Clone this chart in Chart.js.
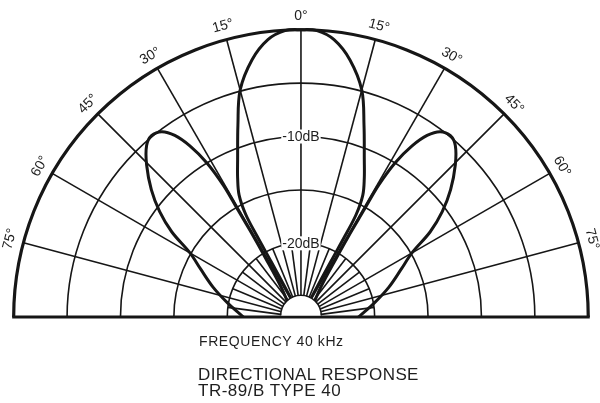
<!DOCTYPE html>
<html>
<head>
<meta charset="utf-8">
<script src="https://cdn.jsdelivr.net/npm/chart.js@4.4.0/dist/chart.umd.min.js"></script>
<style>
  html, body { margin: 0; padding: 0; background: #fff; }
  #wrap { position: relative; width: 600px; height: 403px; }
  .cap { position: absolute; font-family: "Liberation Sans", Arial, sans-serif; color: #1e1e1e; white-space: nowrap; }
</style>
</head>
<body>
<div id="wrap">
  <canvas id="polarChart" width="600" height="403"></canvas>
  <div class="cap" style="left:199px; top:333px; font-size:14px; letter-spacing:0.6px;">FREQUENCY 40 kHz</div>
  <div class="cap" style="left:198px; top:365px; font-size:17px; letter-spacing:0.4px;">DIRECTIONAL RESPONSE</div>
  <div class="cap" style="left:198px; top:381px; font-size:17px; letter-spacing:0.5px;">TR-89/B TYPE 40</div>
</div>
<script>
// dB value that sits at the middle of the half circle
const centerDb = -26.9;
const ringDb = [0, -5, -10, -15, -20];
const innerDb = -25;
const spokeDeg = [-75, -60, -45, -30, -15, 0, 15, 30, 45, 60, 75];
const minorSpokeDeg = [-82.5, -67.5, -52.5, -37.5, -22.5, -7.5, 7.5, 22.5, 37.5, 52.5, 67.5, 82.5];
const angleLabelDeg = [-75, -60, -45, -30, -15, 0, 15, 30, 45, 60, 75];
const angleLabels = ['75°', '60°', '45°', '30°', '15°', '0°', '15°', '30°', '45°', '60°', '75°'];
const dbLabelDb = [-10, -20];
const dbLabels = ['-10dB', '-20dB'];

// main lobe, one half (angle off axis, level in dB)
const mainLobeDeg = [0, 3.2, 6.8, 10.8, 15.0, 18.2, 21.9, 24.5, 26.9, 28.3, 28.5, 28.3, 28.0];
const mainLobeDb = [0, -0.05, -0.75, -2.4, -4.9, -8.0, -11.0, -12.6, -14.1, -16.0, -18.3, -21.0, -25.0];

// side lobe, traced from the middle out along the inner edge and back down the outer edge
const sideLobeDeg = [41, 33.5, 31, 30.5, 30.5, 30.5, 31.4, 33.0, 34.8, 36.9, 39.5, 42.0, 45.4, 49.6, 53.3, 56.6, 60.0, 64.5, 71.2, 79.1, 89.0, 90];
const sideLobeDb = [-25, -23.5, -20.5, -18.2, -15.2, -12.6, -10.0, -7.8, -6.2, -5.2, -4.9, -5.3, -6.6, -8.5, -10.4, -12.4, -14.9, -16.5, -18.2, -19.9, -21.4, -21.5];

function toXY(deg, db) {
    const u = db - centerDb;
    const a = deg * Math.PI / 180;
    return { x: u * Math.sin(a), y: u * Math.cos(a) };
}

const mainLoop = [];
for (let i = mainLobeDeg.length - 1; i >= 0; i--) mainLoop.push(toXY(-mainLobeDeg[i], mainLobeDb[i]));
for (let i = 1; i < mainLobeDeg.length; i++) mainLoop.push(toXY(mainLobeDeg[i], mainLobeDb[i]));
const sideLeft = sideLobeDeg.map((d, i) => toXY(-d, sideLobeDb[i]));
const sideRight = sideLobeDeg.map((d, i) => toXY(d, sideLobeDb[i]));

const ink = '#161616';

const polarGrid = {
    id: 'polarGrid',
    beforeDatasetsDraw(chart) {
        const ctx = chart.ctx;
        const xs = chart.scales.x, ys = chart.scales.y;
        const cx = xs.getPixelForValue(0), cy = ys.getPixelForValue(0);
        const rad = db => xs.getPixelForValue(db - centerDb) - cx;
        const pt = (deg, db) => {
            const p = toXY(deg, db);
            return [xs.getPixelForValue(p.x), ys.getPixelForValue(p.y)];
        };
        ctx.save();
        ctx.strokeStyle = ink;
        ctx.lineCap = 'butt';
        // rings
        ringDb.forEach(db => {
            ctx.lineWidth = db === 0 ? 3.2 : 1.6;
            ctx.beginPath();
            ctx.arc(cx, cy, rad(db), Math.PI, 2 * Math.PI);
            ctx.stroke();
        });
        // spokes
        ctx.lineWidth = 1.6;
        spokeDeg.forEach(d => {
            const a = pt(d, innerDb), b = pt(d, 0);
            ctx.beginPath(); ctx.moveTo(a[0], a[1]); ctx.lineTo(b[0], b[1]); ctx.stroke();
        });
        minorSpokeDeg.forEach(d => {
            const a = pt(d, innerDb), b = pt(d, -20);
            ctx.beginPath(); ctx.moveTo(a[0], a[1]); ctx.lineTo(b[0], b[1]); ctx.stroke();
        });
        ctx.restore();
    },
    afterDatasetsDraw(chart) {
        const ctx = chart.ctx;
        const xs = chart.scales.x, ys = chart.scales.y;
        const cx = xs.getPixelForValue(0), cy = ys.getPixelForValue(0);
        const rad = db => xs.getPixelForValue(db - centerDb) - cx;
        ctx.save();
        ctx.strokeStyle = ink;
        // baseline
        ctx.lineWidth = 3;
        ctx.beginPath();
        ctx.moveTo(cx - rad(0) - 1.5, cy);
        ctx.lineTo(cx + rad(0) + 1.5, cy);
        ctx.stroke();
        // small half circle in the middle
        ctx.fillStyle = '#fff';
        ctx.lineWidth = 1.6;
        ctx.beginPath();
        ctx.arc(cx, cy - 1.5, rad(innerDb), Math.PI, 2 * Math.PI);
        ctx.closePath();
        ctx.fill();
        ctx.beginPath();
        ctx.arc(cx, cy - 1.5, rad(innerDb), Math.PI, 2 * Math.PI);
        ctx.stroke();

        // dB labels on the axis
        ctx.font = '14px "Liberation Sans", Arial, sans-serif';
        ctx.textAlign = 'center';
        ctx.textBaseline = 'middle';
        dbLabelDb.forEach((db, i) => {
            const y = cy - rad(db);
            const w = ctx.measureText(dbLabels[i]).width;
            ctx.fillStyle = '#fff';
            ctx.fillRect(cx - w / 2 - 1, y - 7, w + 2, 14);
            ctx.fillStyle = '#1e1e1e';
            ctx.fillText(dbLabels[i], cx, y + 1);
        });

        // angle labels round the outside
        const r = rad(0) + 14;
        angleLabelDeg.forEach((d, i) => {
            const a = d * Math.PI / 180;
            ctx.save();
            ctx.translate(cx + r * Math.sin(a), cy - r * Math.cos(a));
            ctx.rotate(a);
            ctx.fillStyle = '#1e1e1e';
            ctx.fillText(angleLabels[i], 0, 0);
            ctx.restore();
        });
        ctx.restore();
    }
};

const lobeStyle = {
    showLine: true,
    borderColor: ink,
    borderWidth: 3,
    pointRadius: 0,
    fill: false,
    tension: 0.35
};

new Chart(document.getElementById('polarChart'), {
    type: 'scatter',
    data: {
        datasets: [
            Object.assign({ label: 'main', data: mainLoop }, lobeStyle),
            Object.assign({ label: 'side L', data: sideLeft }, lobeStyle),
            Object.assign({ label: 'side R', data: sideRight }, lobeStyle)
        ]
    },
    options: {
        responsive: false,
        animation: false,
        layout: { padding: 0 },
        scales: {
            x: { type: 'linear', display: false, min: -28.18, max: 28.0 },
            y: { type: 'linear', display: false, min: -8.05, max: 29.68 }
        },
        plugins: {
            legend: { display: false },
            tooltip: { enabled: false }
        }
    },
    plugins: [polarGrid]
});
</script>
</body>
</html>
